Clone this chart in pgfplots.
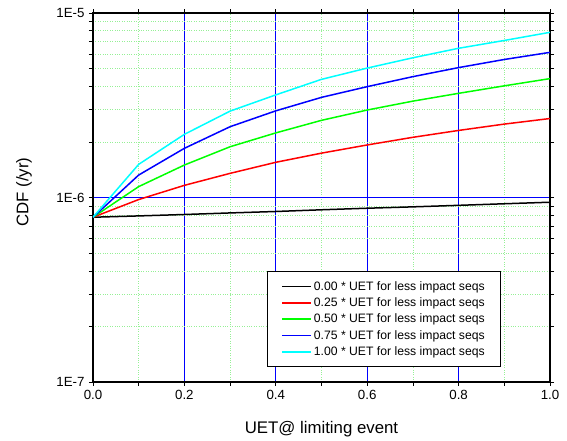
\documentclass[border=0pt]{standalone}
\usepackage{fontspec}
\setmainfont{Liberation Sans}
\usepackage{pgfplots}
\pgfplotsset{compat=1.18}
\definecolor{cyanline}{RGB}{0,255,255}
\definecolor{greenline}{RGB}{0,255,0}
\definecolor{blueline}{RGB}{0,0,255}
\definecolor{redline}{RGB}{255,0,0}
\definecolor{gridgreen}{RGB}{150,240,150}
\newcommand{\ticksize}{\fontsize{13.3}{15}\selectfont}

\begin{document}
\begin{tikzpicture}
\begin{axis}[
    at={(0pt,0pt)}, anchor=south west,
    scale only axis,
    width=457pt, height=369pt,
    ymode=log,
    xmin=0, xmax=1,
    ymin=1e-7, ymax=1e-5,
    xtick={0,0.2,0.4,0.6,0.8,1.0},
    xticklabels={\ticksize 0.0,\ticksize 0.2,\ticksize 0.4,\ticksize 0.6,\ticksize 0.8,\ticksize 1.0},
    minor xtick={0.1,0.3,0.5,0.7,0.9},
    ytick={1e-7,1e-6,1e-5},
    yticklabels={\ticksize 1E-7,\ticksize 1E-6,\ticksize 1E-5},
    minor ytick={2e-7,3e-7,4e-7,5e-7,6e-7,7e-7,8e-7,9e-7,2e-6,3e-6,4e-6,5e-6,6e-6,7e-6,8e-6,9e-6},
    xticklabel style={yshift=-1pt},
    yticklabel style={xshift=-1pt},
    tick align=outside,
    major tick length=4pt, minor tick length=4pt,
    tick style={black, line width=0.8pt},
    axis line style={line width=1.2pt},
    xmajorgrids=true, ymajorgrids=true,
    xminorgrids=true, yminorgrids=true,
    major grid style={draw=blueline, line width=0.9pt},
    minor grid style={draw=gridgreen, dotted, line width=0.8pt},
    xlabel={UET@ limiting event},
    ylabel={CDF (/yr)},
    xlabel style={at={(axis description cs:0.5,-0.127)}, anchor=center, font=\fontsize{16.8}{19}\selectfont},
    ylabel style={at={(axis description cs:-0.151,0.515)}, anchor=center, font=\fontsize{16.8}{19}\selectfont},
    legend style={at={(0.893,0.041)}, anchor=south east, draw=black, line width=0.7pt,
        font=\fontsize{12.2}{14}\selectfont, row sep=2pt, inner xsep=14pt, inner ysep=7.5pt},
    legend cell align=left,
    legend image code/.code={\draw[#1, line width=1.5pt] (0pt,0pt) -- (29pt,0pt);},
    every axis plot/.append style={line width=1.5pt},
]
\addplot[black] coordinates {(0,7.82e-7)(0.1,7.95e-7)(0.2,8.09e-7)(0.3,8.25e-7)(0.4,8.4e-7)(0.5,8.58e-7)(0.6,8.75e-7)(0.7,8.9e-7)(0.8,9.07e-7)(0.9,9.25e-7)(1.0,9.43e-7)};
\addlegendentry{0.00 * UET for less impact seqs}
\addplot[redline] coordinates {(0,7.82e-7)(0.1,9.75e-7)(0.2,1.164e-6)(0.3,1.352e-6)(0.4,1.552e-6)(0.5,1.74e-6)(0.6,1.927e-6)(0.7,2.12e-6)(0.8,2.31e-6)(0.9,2.5e-6)(1.0,2.68e-6)};
\addlegendentry{0.25 * UET for less impact seqs}
\addplot[greenline] coordinates {(0,7.82e-7)(0.1,1.146e-6)(0.2,1.5e-6)(0.3,1.885e-6)(0.4,2.24e-6)(0.5,2.62e-6)(0.6,2.98e-6)(0.7,3.33e-6)(0.8,3.67e-6)(0.9,4.03e-6)(1.0,4.41e-6)};
\addlegendentry{0.50 * UET for less impact seqs}
\addplot[blueline] coordinates {(0,7.82e-7)(0.1,1.324e-6)(0.2,1.848e-6)(0.3,2.42e-6)(0.4,2.95e-6)(0.5,3.49e-6)(0.6,3.99e-6)(0.7,4.52e-6)(0.8,5.06e-6)(0.9,5.6e-6)(1.0,6.12e-6)};
\addlegendentry{0.75 * UET for less impact seqs}
\addplot[cyanline] coordinates {(0,7.82e-7)(0.1,1.513e-6)(0.2,2.2e-6)(0.3,2.94e-6)(0.4,3.6e-6)(0.5,4.37e-6)(0.6,5.03e-6)(0.7,5.72e-6)(0.8,6.44e-6)(0.9,7.1e-6)(1.0,7.86e-6)};
\addlegendentry{1.00 * UET for less impact seqs}
\end{axis}
\pgfresetboundingbox
\path (-93pt,-59pt) rectangle (474pt,382pt);
\end{tikzpicture}
\end{document}
